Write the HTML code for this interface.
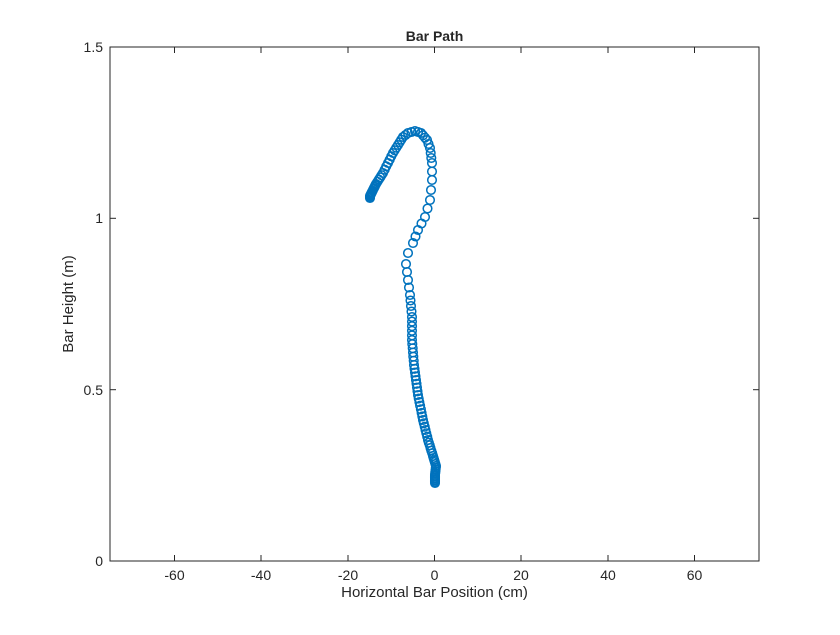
<!DOCTYPE html>
<html><head><meta charset="utf-8"><style>
body{margin:0;background:#fff;}
svg text{font-family:"Liberation Sans",sans-serif;fill:#262626;}
</style></head><body>
<svg id="s" width="840" height="630" xmlns="http://www.w3.org/2000/svg">
<rect width="840" height="630" fill="#fff"/>
<rect x="110" y="47" width="649" height="514" fill="#fff" stroke="#262626" stroke-width="1"/>
<g stroke="#262626" stroke-width="1">
<line x1="174.5" y1="561" x2="174.5" y2="555"/><line x1="261" y1="561" x2="261" y2="555"/><line x1="348" y1="561" x2="348" y2="555"/><line x1="434.5" y1="561" x2="434.5" y2="555"/><line x1="521" y1="561" x2="521" y2="555"/><line x1="608" y1="561" x2="608" y2="555"/><line x1="694.5" y1="561" x2="694.5" y2="555"/>
<line x1="174.5" y1="47" x2="174.5" y2="53"/><line x1="261" y1="47" x2="261" y2="53"/><line x1="348" y1="47" x2="348" y2="53"/><line x1="434.5" y1="47" x2="434.5" y2="53"/><line x1="521" y1="47" x2="521" y2="53"/><line x1="608" y1="47" x2="608" y2="53"/><line x1="694.5" y1="47" x2="694.5" y2="53"/>
<line x1="110" y1="389.7" x2="116" y2="389.7"/><line x1="110" y1="218.3" x2="116" y2="218.3"/>
<line x1="759" y1="389.7" x2="753" y2="389.7"/><line x1="759" y1="218.3" x2="753" y2="218.3"/>
</g>
<g font-size="14" text-anchor="middle">
<text x="174.5" y="580">-60</text><text x="261" y="580">-40</text><text x="348" y="580">-20</text><text x="434.5" y="580">0</text><text x="521" y="580">20</text><text x="608" y="580">40</text><text x="694.5" y="580">60</text>
</g>
<g font-size="14" text-anchor="end">
<text x="103" y="566">0</text><text x="103" y="395">0.5</text><text x="103" y="223">1</text><text x="103" y="52">1.5</text>
</g>
<text x="434.5" y="597" font-size="15" text-anchor="middle">Horizontal Bar Position (cm)</text>
<text transform="translate(73,304) rotate(-90)" font-size="15" text-anchor="middle">Bar Height (m)</text>
<text x="434.5" y="41" font-size="14" font-weight="bold" text-anchor="middle" fill="#000">Bar Path</text>
<g id="pts" fill="none" stroke="#0072BD" stroke-width="1.5"></g>
</svg>
<script>
var P=[[435,483,1],[435,475,1.5],[436,466,2],[433,456,2.5],[428,440,3],[423,420,3.5],[418,395,4],[414,365,4],[412,340,4],[412,317,5],[410,295,6],[408,280,7],[406,264,7],[408,253,8],[413,243,8],[418,230,9],[425,217,9],[430,200,9],[432,180,9],[432,163,7],[430,148,5],[427,140,4],[421,133,3],[415,131,3],[408,133,3],[403,137,3],[393,153,3.5],[383,173,3.5],[376,184,2],[372,192,1],[370,196,1],[370,198,1]];
var g=document.getElementById('pts'),h='';
for(var i=0;i<P.length-1;i++){var a=P[i],b=P[i+1];var d=Math.hypot(b[0]-a[0],b[1]-a[1]);var sp=(a[2]+b[2])/2;var n=Math.max(1,Math.round(d/sp));for(var k=0;k<n;k++){var t=k/n;h+='<circle cx="'+(a[0]+(b[0]-a[0])*t).toFixed(1)+'" cy="'+(a[1]+(b[1]-a[1])*t).toFixed(1)+'" r="4.3"/>';}}
h+='<circle cx="370" cy="198" r="4.3"/>';
g.innerHTML=h;
</script>
</body></html>
